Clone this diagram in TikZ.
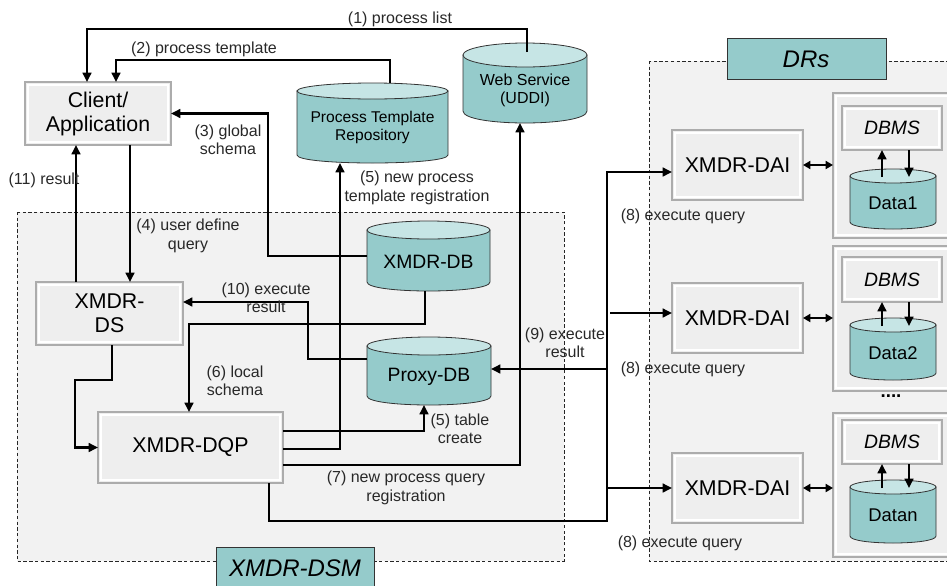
\documentclass[tikz,border=0pt]{standalone}
\usepackage{fontspec}
\setmainfont{Liberation Sans}
\usetikzlibrary{arrows.meta}
\definecolor{regfill}{RGB}{242,242,242}
\definecolor{boxfill}{RGB}{238,238,238}
\definecolor{tealbody}{RGB}{149,203,203}
\definecolor{tealtop}{RGB}{198,229,229}
\definecolor{labcol}{RGB}{40,40,40}
\tikzset{
  gbox/.style={draw=gray!65, fill=boxfill, line width=0.8pt, inner sep=0pt, outer sep=0pt, align=center,
    font=\fontsize{16}{18}\selectfont,
    path picture={\draw[white,line width=1.2pt] ([shift={(2.2pt,-2.2pt)}]path picture bounding box.north west) rectangle ([shift={(-2.2pt,2.2pt)}]path picture bounding box.south east);}},
  region/.style={fill=regfill, draw=black!85, line width=0.6pt, dash pattern=on 2.5pt off 1.8pt},
  tagbox/.style={fill=tealbody, draw=black!80, line width=0.7pt},
  cylbody/.style={fill=tealbody, draw=black!80, line width=0.6pt},
  cyltop/.style={fill=tealtop, draw=black!80, line width=0.6pt},
  conn/.style={line width=2.1pt, line join=miter},
  arr/.style={conn, -{Triangle[length=7pt,width=6.5pt]}},
  darr/.style={conn, {Triangle[length=5.5pt,width=6pt]}-{Triangle[length=5.5pt,width=6pt]}},
  lab/.style={text=labcol, align=center, inner sep=0pt, font=\fontsize{12}{13.8}\selectfont},
}
\newcommand\boxnode[6]{%
  \node[gbox, minimum width={(#4-#2)*0.75pt}, minimum height={(#5-#3)*0.75pt}] (#1) at ({(#2+#4)/2},{(#3+#5)/2}) {#6};}
\newcommand\dbcyl[8]{%
  \pgfmathsetmacro\cylcx{(#2+#3)/2}%
  \pgfmathsetmacro\cylrx{(#3-#2)/2}%
  \pgfmathsetmacro\cylct{#4+#6}%
  \pgfmathsetmacro\cylcb{#5-#6}%
  \pgfmathsetmacro\cylcc{#5-#6+1.3333*#6}%
  \filldraw[cylbody] (#2,\cylct) -- (#2,\cylcb) .. controls (#2,\cylcc) and (#3,\cylcc) .. (#3,\cylcb) -- (#3,\cylct) -- cycle;
  \filldraw[cyltop] (\cylcx,\cylct) ellipse [x radius=\cylrx*0.75pt, y radius=#6*0.75pt];
  \node[inner sep=0pt, outer sep=0pt, minimum width={(#3-#2)*0.75pt}, minimum height={(#5-#4)*0.75pt}] (#1) at (\cylcx,{(#4+#5)/2}) {};
  \node[align=center, inner sep=0pt, font=#8] (#1-t) at (\cylcx,{(#4+#5)/2+#6*0.6}) {#7};}
\begin{document}
\begin{tikzpicture}[x=0.75pt,y=-0.75pt]
\useasboundingbox (0,0) rectangle (947,586);
\clip (0,0) rectangle (947,586);
% regions
\filldraw[region] (17,212) rectangle (564,561);
\filldraw[region] (649,61) rectangle (970,561);
\filldraw[tagbox] (216,547) rectangle (374,610);
\node[font=\fontsize{18}{20}\selectfont\itshape, inner sep=0pt] (dsmlab) at (295,568) {XMDR-DSM};
\filldraw[tagbox] (727,38) rectangle (886,79);
\node[font=\fontsize{18}{20}\selectfont\itshape, inner sep=0pt] (drslab) at (806,59) {DRs};
% boxes
\boxnode{client}{25}{82}{171}{145}{Client/\\Application}
\boxnode{ds}{36}{282}{183}{345}{XMDR-\\DS}
\boxnode{dqp}{98}{412}{283}{483}{XMDR-DQP}
\boxnode{dai1}{672}{130}{803}{200}{XMDR-DAI}
\boxnode{dai2}{672}{283}{803}{353}{XMDR-DAI}
\boxnode{dai3}{672}{453}{803}{523}{XMDR-DAI}
\boxnode{cont1}{833}{93}{955}{238}{}
\boxnode{cont2}{833}{246}{955}{391}{}
\boxnode{cont3}{833}{413}{955}{557}{}
\node[gbox, font=\fontsize{14.5}{16}\selectfont\itshape, minimum width={100*0.75pt}, minimum height={44*0.75pt}] (dbms1) at (892,128) {DBMS};
\node[gbox, font=\fontsize{14.5}{16}\selectfont\itshape, minimum width={100*0.75pt}, minimum height={45*0.75pt}] (dbms2) at (892,279.5) {DBMS};
\node[gbox, font=\fontsize{14.5}{16}\selectfont\itshape, minimum width={100*0.75pt}, minimum height={44*0.75pt}] (dbms3) at (892,442) {DBMS};
% cylinders
\dbcyl{ptr}{297}{448}{83}{163}{8}{Process Template\\Repository}{\fontsize{11.7}{13.5}\selectfont}
\dbcyl{ws}{463}{587}{43}{123}{12}{Web Service\\(UDDI)}{\fontsize{12}{14}\selectfont}
\dbcyl{xdb}{367}{490}{221}{291}{9}{XMDR-DB}{\fontsize{14.5}{16}\selectfont}
\dbcyl{pdb}{367}{491}{337}{405}{9}{Proxy-DB}{\fontsize{14.5}{16}\selectfont}
\dbcyl{data1}{850}{936}{169}{229}{7}{Data1}{\fontsize{13.8}{16}\selectfont}
\dbcyl{data2}{850}{936}{318}{380}{7}{Data2}{\fontsize{13.8}{16}\selectfont}
\dbcyl{data3}{850}{936}{480}{543}{7}{Datan}{\fontsize{13.8}{16}\selectfont}
% connectors
\draw[arr] (ws.north) ++(2,9) |- (87,29) -- (87,0 |- client.north);
\draw[arr] (390,0 |- ptr.north) |- (116,60) -- (116,0 |- client.north);
\draw[arr] (xdb.west) -| (268,0 |- client.east) -- (client.east);
\draw[arr] (130,0 |- client.south) -- (130,0 |- ds.north);
\draw[arr] (76,0 |- ds.north) -- (76,0 |- client.south);
\draw[arr] (pdb.west |- 0,359) -| (308,302) -- (ds.east |- 0,302);
\draw[arr] (425,0 |- xdb.south) |- (189,324) -- (189,0 |- dqp.north);
\draw[arr] (112,0 |- ds.south) |- (75,380) |- (dqp.west);
\draw[arr] (dqp.east |- 0,431) -| (424,0 |- pdb.south);
\draw[arr] (dqp.east |- 0,449) -| (340,0 |- ptr.south);
\draw[arr] (dqp.east |- 0,465) -| (520,0 |- ws.south);
\draw[arr] (269,0 |- dqp.south) |- (607,521) |- (dai1.west |- 0,172);
\coordinate (bus2) at (610,313);
\coordinate (bus3) at (607,488);
\coordinate (bus9) at (607,369);
\draw[arr] (bus2) -- (dai2.west |- bus2);
\draw[arr] (bus3) -- (dai3.west |- bus3);
\draw[arr] (bus9) -- (pdb.east |- bus9);
\draw[darr] (dai1.east) -- (dai1.east -| cont1.west);
\draw[darr] (dai2.east) -- (dai2.east -| cont2.west);
\draw[darr] (dai3.east) -- (dai3.east -| cont3.west);
\foreach \i in {1,2,3}{
  \draw[arr] ([shift={(-11,8)}]data\i.north) -- (882,0 |- dbms\i.south);
  \draw[arr] (909,0 |- dbms\i.south) -- ([shift={(16,8)}]data\i.north);
}
% labels
\node[lab] (l1) at (400,19) {(1) process list};
\node[lab] (l2) at (204,49) {(2) process template};
\node[lab] (l3) at (228,140) {(3) global\\schema};
\node[lab] (l11) at (44,180) {(11) result};
\node[lab] (l4) at (188,236) {(4) user define\\query};
\node[lab] (l10) at (266,298) {(10) execute\\result};
\node[lab] (l6) at (235,381) {(6) local\\schema};
\node[lab] (l5a) at (417,188) {(5) new process\\template registration};
\node[lab] (l5b) at (460,429) {(5) table\\create};
\node[lab] (l7) at (406,488) {(7) new process query\\registration};
\node[lab] (l9) at (565,343) {(9) execute\\result};
\node[lab] (l8a) at (683,216) {(8) execute query};
\node[lab] (l8b) at (683,369) {(8) execute query};
\node[lab] (l8c) at (680,543) {(8) execute query};
\node[font=\fontsize{14}{16}\selectfont\bfseries, inner sep=0pt] (dots) at (891,396) {....};
\end{tikzpicture}
\end{document}
